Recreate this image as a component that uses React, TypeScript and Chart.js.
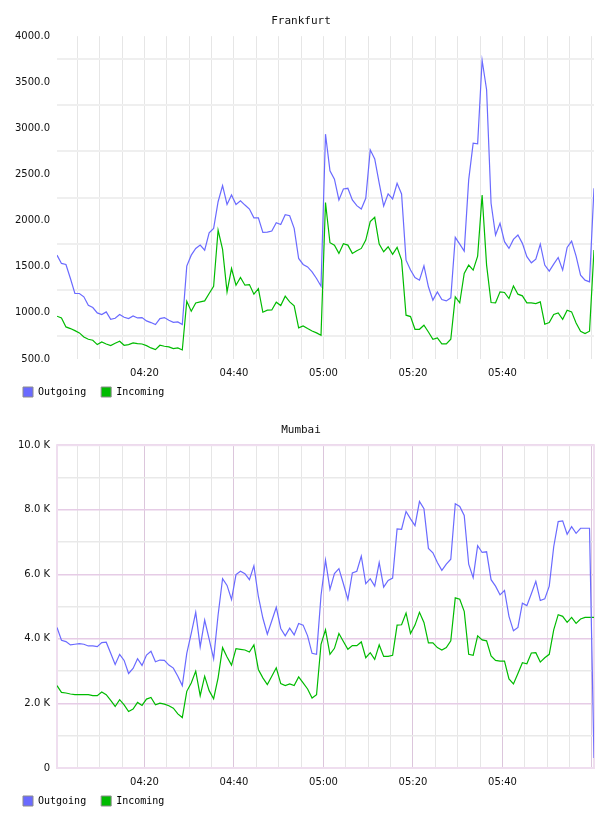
import React, { useEffect, useRef } from 'react';
import { Chart, registerables } from 'chart.js';

Chart.register(...registerables);

// One reading per minute; the first one lands 27 s after 04:00.
const FIRST_SAMPLE_MIN = 0.45;

// Vertical grid every 5 minutes, labelled every 20 minutes (minutes after 04:00).
const GRID_MINUTES = [5, 10, 15, 20, 25, 30, 35, 40, 45, 50, 55, 60, 65, 70, 75, 80, 85, 90, 95, 100, 105, 110, 115, 120];
const LABEL_MINUTES = [20, 40, 60, 80, 100];

const frankfurtOutgoing = [
  1626, 1536, 1525, 1373, 1210, 1210, 1174, 1083, 1058, 1000,
  982, 1011, 931, 942, 982, 953, 938, 967, 945, 949,
  913, 895, 873, 938, 949, 920, 898, 902, 873, 1507,
  1626, 1698, 1735, 1680, 1869, 1916, 2205, 2379, 2176, 2278,
  2176, 2216, 2169, 2126, 2031, 2031, 1872, 1876, 1887, 1977,
  1959, 2064, 2053, 1916, 1590, 1525, 1499, 1445, 1373, 1289,
  2938, 2540, 2449, 2225, 2344, 2351, 2225, 2163, 2127, 2243,
  2768, 2670, 2406, 2159, 2290, 2235, 2406, 2290, 1572, 1464,
  1384, 1355, 1511, 1283, 1138, 1228, 1145, 1130, 1163, 1819,
  1746, 1670, 2442, 2840, 2833, 3739, 3420, 2188, 1844, 1971,
  1772, 1699, 1797, 1844, 1754, 1609, 1543, 1583, 1746, 1518,
  1453, 1529, 1601, 1464, 1710, 1779, 1616, 1409, 1355, 1337,
  2351,
];

const frankfurtIncoming = [
  964, 945, 848, 830, 808, 783, 739, 714, 703, 656,
  685, 663, 645, 670, 692, 649, 656, 674, 667, 663,
  645, 620, 602, 649, 638, 631, 613, 620, 598, 1126,
  1018, 1108, 1119, 1130, 1210, 1289, 1898, 1688, 1228, 1481,
  1300, 1383, 1300, 1307, 1203, 1264, 1007, 1029, 1032, 1116,
  1079, 1181, 1119, 1076, 837, 859, 830, 804, 783, 757,
  2196, 1761, 1735, 1645, 1750, 1735, 1645, 1674, 1699, 1790,
  1989, 2036, 1746, 1663, 1717, 1634, 1710, 1572, 975, 960,
  822, 822, 866, 793, 714, 728, 663, 663, 714, 1174,
  1109, 1428, 1518, 1464, 1616, 2279, 1518, 1112, 1109, 1228,
  1221, 1156, 1293, 1203, 1185, 1109, 1109, 1101, 1120, 877,
  895, 982, 1000, 931, 1029, 1011, 891, 800, 775, 801,
  1681,
];

const mumbaiOutgoing = [
  4354, 3958, 3917, 3813, 3833, 3854, 3833, 3781, 3781, 3760,
  3885, 3896, 3552, 3208, 3521, 3333, 2927, 3083, 3385, 3177,
  3500, 3615, 3292, 3344, 3333, 3188, 3094, 2844, 2552, 3552,
  4167, 4823, 3750, 4583, 3990, 3385, 4740, 5865, 5656, 5219,
  5990, 6094, 6021, 5833, 6260, 5313, 4646, 4146, 4563, 4979,
  4323, 4094, 4333, 4125, 4479, 4427, 4094, 3552, 3521, 5344,
  6438, 5531, 6021, 6177, 5708, 5219, 6042, 6094, 6563, 5708,
  5865, 5635, 6365, 5604, 5813, 5885, 7406, 7396, 7948, 7719,
  7510, 8260, 8031, 6802, 6667, 6365, 6125, 6313, 6469, 8188,
  8104, 7823, 6313, 5896, 6886, 6677, 6698, 5833, 5635, 5365,
  5500, 4698, 4250, 4354, 5104, 5031, 5396, 5781, 5188, 5240,
  5635, 6854, 7635, 7656, 7240, 7479, 7271, 7427, 7427, 7427,
  312,
];

const mumbaiIncoming = [
  2552, 2344, 2323, 2292, 2271, 2271, 2271, 2271, 2240, 2240,
  2354, 2271, 2094, 1906, 2115, 1958, 1750, 1823, 2031, 1938,
  2135, 2188, 1958, 2010, 1979, 1927, 1854, 1677, 1563, 2375,
  2635, 3000, 2240, 2844, 2396, 2146, 2792, 3729, 3438, 3188,
  3698, 3677, 3656, 3594, 3813, 3052, 2792, 2583, 2844, 3104,
  2615, 2552, 2604, 2552, 2823, 2635, 2448, 2167, 2271, 3833,
  4281, 3521, 3708, 4167, 3917, 3677, 3792, 3792, 3906, 3417,
  3573, 3365, 3813, 3458, 3458, 3490, 4427, 4438, 4802, 4167,
  4427, 4823, 4510, 3875, 3875, 3729, 3656, 3729, 3938, 5271,
  5229, 4854, 3521, 3490, 4094, 3969, 3938, 3469, 3333, 3313,
  3313, 2760, 2604, 2927, 3260, 3229, 3563, 3573, 3281, 3417,
  3521, 4281, 4750, 4698, 4510, 4667, 4479, 4615, 4667, 4667,
  4667,
];

const SERIES_NAMES = ['Outgoing', 'Incoming'];
const OUT_COLOR = '#6a6aff';
const IN_COLOR = '#00bb00';

const pad2 = (n: number) => String(n).padStart(2, '0');
const clock = (m: number) => `${pad2(4 + Math.floor(m / 60))}:${pad2(m % 60)}`;

const toPoints = (values: number[]) =>
  values.map((v, i) => ({ x: FIRST_SAMPLE_MIN + i, y: v }));

const TICK_FONT = { family: "'DejaVu Sans', sans-serif", size: 10 };
const MONO_FONT = { family: "'DejaVu Sans Mono', monospace", size: 10 };

type Panel = {
  title: string;
  outgoing: number[];
  incoming: number[];
  yMin: number;
  yMax: number;
  yStep: number;
  yLabel: (v: number) => string;
  yGridColor: (v: number) => string;
  yGridWidth: number;
  xGridColor: (v: number) => string;
  frame: string | null;
};

const frankfurt: Panel = {
  title: 'Frankfurt',
  outgoing: frankfurtOutgoing,
  incoming: frankfurtIncoming,
  yMin: 500,
  yMax: 4000,
  yStep: 250,
  yLabel: (v) => (v % 500 === 0 ? v.toFixed(1) : ''),
  yGridColor: (v) => (v % 500 === 0 ? 'rgba(0,0,0,0)' : '#efefef'),
  yGridWidth: 2,
  xGridColor: () => '#e6e6e6',
  frame: null,
};

const mumbai: Panel = {
  title: 'Mumbai',
  outgoing: mumbaiOutgoing,
  incoming: mumbaiIncoming,
  yMin: 0,
  yMax: 10000,
  yStep: 1000,
  yLabel: (v) => (v === 0 ? '0' : v % 2000 === 0 ? `${(v / 1000).toFixed(1)} K` : ''),
  yGridColor: (v) => (v % 2000 === 0 ? '#e6cce6' : '#e9e9e9'),
  yGridWidth: 1.5,
  xGridColor: (v) => (v % 20 === 0 ? '#dcc6dc' : '#e6e6e6'),
  frame: '#efdeef',
};

// Draws the rectangle round the plotting area when a panel asks for one.
const framePlugin = {
  id: 'plotFrame',
  beforeDatasetsDraw(chart: any, _args: any, opts: any) {
    if (!opts || !opts.color) return;
    const { ctx, chartArea } = chart;
    ctx.save();
    ctx.strokeStyle = opts.color;
    ctx.lineWidth = 2;
    ctx.strokeRect(chartArea.left, chartArea.top, chartArea.right - chartArea.left, chartArea.bottom - chartArea.top);
    ctx.restore();
  },
};

// Pulls the legend row up a little, closer to the time labels.
const legendLiftPlugin = {
  id: 'legendLift',
  afterLayout(chart: any, _args: any, opts: any) {
    const lift = (opts && opts.lift) || 0;
    if (chart.legend) {
      chart.legend.top -= lift;
      chart.legend.bottom -= lift;
    }
  },
};

function TrafficChart({ panel, height }: { panel: Panel; height: number }) {
  const ref = useRef<HTMLCanvasElement | null>(null);

  useEffect(() => {
    if (!ref.current) return;
    const chart = new Chart(ref.current, {
      type: 'line',
      data: {
        datasets: [
          {
            label: SERIES_NAMES[0],
            data: toPoints(panel.outgoing),
            borderColor: OUT_COLOR,
            backgroundColor: OUT_COLOR,
            borderWidth: 1.2,
            pointRadius: 0,
            tension: 0,
            fill: false,
          },
          {
            label: SERIES_NAMES[1],
            data: toPoints(panel.incoming),
            borderColor: IN_COLOR,
            backgroundColor: IN_COLOR,
            borderWidth: 1.2,
            pointRadius: 0,
            tension: 0,
            fill: false,
          },
        ],
      },
      options: {
        responsive: false,
        animation: false,
        events: [],
        layout: { padding: { left: 0, right: 6, top: 0, bottom: 0 } },
        scales: {
          x: {
            type: 'linear',
            min: FIRST_SAMPLE_MIN,
            max: FIRST_SAMPLE_MIN + panel.outgoing.length - 1,
            afterBuildTicks: (scale: any) => {
              scale.ticks = GRID_MINUTES.map((v) => ({ value: v }));
            },
            afterFit: (scale: any) => {
              scale.height = 22;
            },
            ticks: {
              autoSkip: false,
              maxRotation: 0,
              padding: 8,
              color: '#111',
              font: TICK_FONT,
              callback: (v: any) => (LABEL_MINUTES.includes(Number(v)) ? clock(Number(v)) : ''),
            },
            grid: {
              drawTicks: false,
              lineWidth: 1,
              color: (c: any) => panel.xGridColor(c.tick ? c.tick.value : 0),
            },
            border: { display: false },
          },
          y: {
            min: panel.yMin,
            max: panel.yMax,
            afterFit: (scale: any) => {
              scale.width = 49;
            },
            ticks: {
              stepSize: panel.yStep,
              autoSkip: false,
              padding: 7,
              color: '#111',
              font: TICK_FONT,
              callback: (v: any) => panel.yLabel(Number(v)),
            },
            grid: {
              drawTicks: false,
              lineWidth: panel.yGridWidth,
              color: (c: any) => panel.yGridColor(c.tick ? c.tick.value : 0),
            },
            border: { display: false },
          },
        },
        plugins: {
          plotFrame: { color: panel.frame },
          legendLift: { lift: 9 },
          tooltip: { enabled: false },
          title: {
            display: true,
            text: panel.title,
            color: '#111',
            font: { family: "'DejaVu Sans Mono', monospace", size: 11, weight: 'normal' },
            padding: { top: 7, bottom: 8 },
          },
          legend: {
            display: true,
            position: 'bottom',
            align: 'start',
            labels: {
              boxWidth: 10,
              boxHeight: 10,
              padding: 15,
              color: '#000',
              font: MONO_FONT,
              generateLabels: (ch: any) =>
                ch.data.datasets.map((ds: any, i: number) => ({
                  text: ds.label,
                  fillStyle: ds.borderColor,
                  strokeStyle: '#8c8c8c',
                  lineWidth: 1,
                  hidden: false,
                  datasetIndex: i,
                  fontColor: '#000',
                })),
            },
          },
        },
      },
      plugins: [framePlugin, legendLiftPlugin],
    } as any);
    return () => chart.destroy();
  }, [panel]);

  return <canvas ref={ref} width={592} height={height} style={{ display: 'block' }} />;
}

export default function App() {
  return (
    <div style={{ width: 592 }}>
      <div style={{ height: 409 }}>
        <TrafficChart panel={frankfurt} height={408} />
      </div>
      <div>
        <TrafficChart panel={mumbai} height={408} />
      </div>
    </div>
  );
}
